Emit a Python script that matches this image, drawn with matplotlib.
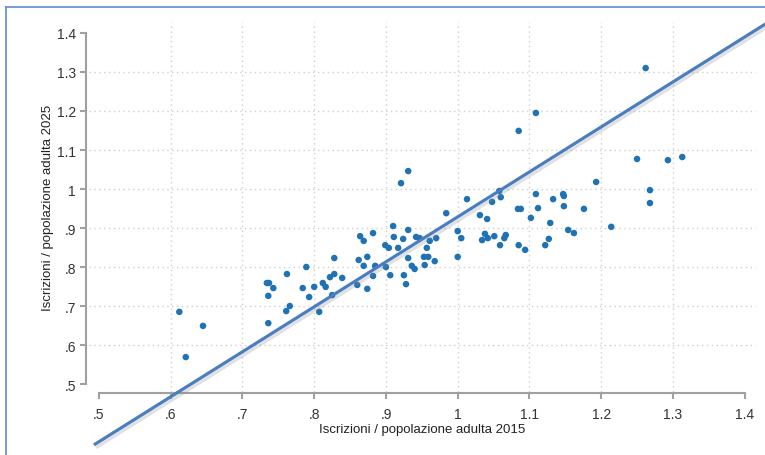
import matplotlib
matplotlib.use("Agg")
import matplotlib.pyplot as plt
import matplotlib.patheffects as pe
from matplotlib.lines import Line2D

plt.rcParams['font.family'] = ['Liberation Sans', 'DejaVu Sans']

# --- data ---
x2015 = [0.612, 0.621, 0.645,
         0.734, 0.737, 0.743, 0.736, 0.736, 0.762, 0.789, 0.766, 0.761, 0.784, 0.793,
         0.800, 0.807, 0.812, 0.816, 0.822, 0.828, 0.828, 0.825, 0.839,
         0.931, 0.921, 1.013, 0.984, 0.910, 0.931, 0.882, 1.000, 0.864, 0.911, 0.924,
         0.942, 0.947, 0.869, 1.005, 0.970, 0.961, 0.899, 0.904, 0.917, 0.957, 0.874,
         0.862, 0.931, 0.953, 0.959, 1.000, 0.869, 0.885, 0.900, 0.936, 0.940, 0.954,
         0.968, 0.882, 0.906, 0.925, 0.860, 0.874, 0.928,
         1.109, 1.085, 1.193, 1.058, 1.060, 1.048, 1.109, 1.147, 1.148, 1.133, 1.148,
         1.176, 1.112, 1.084, 1.088, 1.031, 1.041, 1.102, 1.129, 1.214, 1.154, 1.162,
         1.038, 1.034, 1.042, 1.051, 1.065, 1.067, 1.059, 1.085, 1.094, 1.122, 1.127,
         1.262, 1.250, 1.293, 1.313, 1.268, 1.268]
y2025 = [0.685, 0.569, 0.649,
         0.759, 0.759, 0.746, 0.726, 0.656, 0.782, 0.800, 0.700, 0.687, 0.746, 0.723,
         0.749, 0.685, 0.759, 0.749, 0.774, 0.782, 0.823, 0.728, 0.772,
         1.046, 1.015, 0.974, 0.938, 0.905, 0.895, 0.887, 0.892, 0.879, 0.877, 0.872,
         0.877, 0.874, 0.867, 0.874, 0.874, 0.867, 0.856, 0.849, 0.849, 0.849, 0.826,
         0.818, 0.823, 0.826, 0.826, 0.826, 0.803, 0.803, 0.800, 0.803, 0.795, 0.805,
         0.815, 0.777, 0.779, 0.779, 0.754, 0.744, 0.756,
         1.195, 1.149, 1.018, 0.995, 0.979, 0.967, 0.987, 0.987, 0.982, 0.974, 0.956,
         0.949, 0.951, 0.949, 0.949, 0.933, 0.923, 0.926, 0.913, 0.903, 0.895, 0.887,
         0.885, 0.869, 0.874, 0.879, 0.874, 0.882, 0.856, 0.856, 0.844, 0.856, 0.872,
         1.310, 1.077, 1.074, 1.082, 0.997, 0.964]

fit_intercept = -0.2245
fit_slope = 1.153
fit_x = [0.493, 1.429]

ticks = [0.5, 0.6, 0.7, 0.8, 0.9, 1.0, 1.1, 1.2, 1.3, 1.4]
tick_labels = ['.5', '.6', '.7', '.8', '.9', '1', '1.1', '1.2', '1.3', '1.4']
xlabel = 'Iscrizioni / popolazione adulta 2015'
ylabel = 'Iscrizioni / popolazione adulta 2025'

W, H = 765, 456
fig = plt.figure(figsize=(W / 100, H / 100), dpi=100)
left, right, top, bottom = 89, 756, 23, 393
ax = fig.add_axes([left / W, 1 - bottom / H, (right - left) / W, (bottom - top) / H])
ax.set_xlim(0.4861, 1.4158)
ax.set_ylim(0.4795, 1.4282)

grid_c = '#cfcfcf'
for t in ticks[1:-1]:
    ax.axvline(t, color=grid_c, lw=1.0, ls=(0, (1, 2.5)), zorder=0)
    ax.axhline(t, color=grid_c, lw=1.0, ls=(0, (1, 2.5)), zorder=0)

ax.scatter(x2015, y2025, s=22, color='#1f72b4', edgecolors='none', zorder=3)

fy = [fit_intercept + fit_slope * v for v in fit_x]
ax.plot(fit_x, fy, color='#4a7ebf', lw=2.3, clip_on=False, zorder=4,
        solid_capstyle='butt',
        path_effects=[pe.SimpleLineShadow(offset=(1.5, -2), shadow_color='#888888', alpha=0.25),
                      pe.Normal()])

spine_c = '#a0a0a0'
for s in ['top', 'right']:
    ax.spines[s].set_visible(False)
ax.spines['left'].set_bounds(0.5, 1.4)
ax.spines['bottom'].set_bounds(0.5, 1.4)
ax.spines['left'].set_position(('outward', 2))
ax.spines['bottom'].set_position(('outward', 1))
for s in ['left', 'bottom']:
    ax.spines[s].set_color(spine_c)
    ax.spines[s].set_linewidth(1.5)

ax.set_xticks(ticks)
ax.set_xticklabels(tick_labels)
ax.set_yticks(ticks)
ax.set_yticklabels(tick_labels)
ax.tick_params(axis='both', colors=spine_c, width=1.5, length=4.5, labelsize=10,
               labelcolor='#333333')
ax.tick_params(axis='y', pad=3)
ax.tick_params(axis='x', pad=5)

ax.set_xlabel(xlabel, fontsize=9.5, color='#222222', labelpad=2)
ax.set_ylabel(ylabel, fontsize=9.5, color='#222222')
ax.yaxis.set_label_coords(-0.052, 0.5)

fig.add_artist(Line2D([6 / W, 6 / W], [0, 1 - 8 / H], color='#6a95d2', lw=1.3))
fig.add_artist(Line2D([6 / W, 1], [1 - 8 / H, 1 - 8 / H], color='#6a95d2', lw=1.3))

fig.savefig('out.png', dpi=100)
